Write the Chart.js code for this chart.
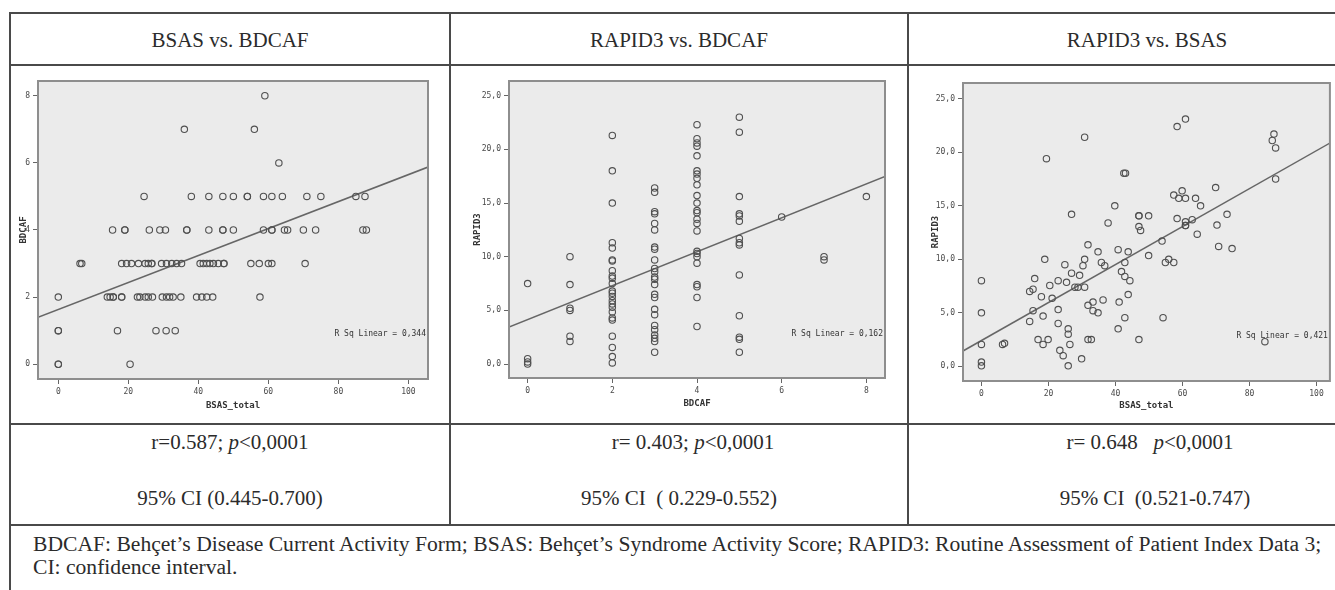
<!DOCTYPE html>
<html>
<head>
<meta charset="utf-8">
<script src="https://cdn.jsdelivr.net/npm/chart.js@4.4.1/dist/chart.umd.min.js"></script>
<style>
body { margin:0; width:1335px; height:590px; overflow:hidden; position:relative; background:#fff;
       font-family:"Liberation Serif","Times New Roman",serif; color:#2b2b2b; }
.hl { position:absolute; height:2px; background:#4a4a4a; }
.vl { position:absolute; width:2px; background:#4a4a4a; }
.txt { position:absolute; text-align:center; font-size:21px; line-height:24px; white-space:pre; }
canvas { position:absolute; }
</style>
</head>
<body>
<div class="hl" style="left:10px; width:1330px; top:12px;"></div>
<div class="hl" style="left:10px; width:1330px; top:64px;"></div>
<div class="hl" style="left:10px; width:1330px; top:423px;"></div>
<div class="hl" style="left:10px; width:1330px; top:524px;"></div>
<div class="vl" style="left:9px; top:12px; height:580px;"></div>
<div class="vl" style="left:449px; top:12px; height:513px;"></div>
<div class="vl" style="left:907px; top:12px; height:513px;"></div>

<div class="txt" style="left:10px; width:440px; top:28px;">BSAS vs. BDCAF</div>
<div class="txt" style="left:450px; width:458px; top:28px;">RAPID3 vs. BDCAF</div>
<div class="txt" style="left:908px; width:478px; top:28px;">RAPID3 vs. BSAS</div>

<div class="txt" style="left:10px; width:440px; top:430px;">r=0.587; <i>p</i>&lt;0,0001</div>
<div class="txt" style="left:10px; width:440px; top:486px;">95% CI (0.445-0.700)</div>
<div class="txt" style="left:450px; width:486px; top:430px;">r= 0.403; <i>p</i>&lt;0,0001</div>
<div class="txt" style="left:450px; width:458px; top:486px;">95% CI  ( 0.229-0.552)</div>
<div class="txt" style="left:908px; width:484px; top:430px;">r= 0.648   <i>p</i>&lt;0,0001</div>
<div class="txt" style="left:908px; width:494px; top:486px;">95% CI  (0.521-0.747)</div>

<div class="txt" style="left:33px; top:533px; text-align:left; font-size:21.6px; line-height:23px;">BDCAF: Behçet’s Disease Current Activity Form; BSAS: Behçet’s Syndrome Activity Score; RAPID3: Routine Assessment of Patient Index Data 3;
CI: confidence interval.</div>

<canvas id="c1" width="438" height="357" style="left:11px; top:66px;"></canvas>
<canvas id="c2" width="456" height="357" style="left:451px; top:66px;"></canvas>
<canvas id="c3" width="426" height="357" style="left:909px; top:66px;"></canvas>

<script>
// BSAS vs. BDCAF: BSAS_total values for each BDCAF level
const bdcafLevels1 = [8, 7, 6, 5, 4, 3, 2, 1, 0];
const bsasAtLevel1 = [
    [59],
    [36, 56],
    [63],
    [24.5, 38, 43, 47, 50, 54, 54, 58.6, 61, 64, 71, 75, 85, 87.6],
    [15.5, 19, 19, 26, 29, 30.6, 36.7, 36.7, 43, 47, 47, 50, 58.6, 61, 61, 64.6, 65.5, 70, 73.5, 87, 88],
    [6.2, 6.7, 18.1, 19.5, 20.9, 22.9, 24.8, 25.7, 26.7, 26.7, 29.5, 30.9, 32.4, 33.8, 35.2, 40.5, 41.4,
     42.4, 43.3, 44.3, 45.7, 47.3, 47.3, 55, 57.4, 60, 61, 70.5],
    [0, 14, 14.8, 15.7, 15.7, 18.1, 18.1, 22.6, 23.3, 24.8, 25.7, 26.9, 29.7, 30.9, 31.8, 32.8, 35,
     39.5, 41, 42.4, 44.1, 57.6],
    [0, 0, 16.9, 27.9, 30.8, 33.4],
    [0, 0, 20.5]
];

// RAPID3 vs. BDCAF: RAPID3 values for each BDCAF value
const bdcafCols2 = [0, 1, 2, 3, 4, 5, 6, 7, 8];
const rapidAtBdcaf2 = [
    [7.5, 0.5, 0.2, 0],
    [10.0, 7.4, 5.2, 5.0, 2.6, 2.1],
    [21.3, 18.0, 15.0, 11.3, 10.8, 9.7, 9.6, 8.7, 8.2, 8.0, 7.5, 6.8, 6.6, 6.3, 5.9, 5.6, 5.3, 4.85,
     4.3, 4.1, 2.6, 1.55, 0.7, 0.1],
    [16.4, 16.0, 14.2, 14.0, 13.1, 12.5, 10.9, 10.7, 9.7, 8.9, 8.6, 8.1, 7.9, 7.4, 6.5, 6.2, 5.1, 4.6,
     3.6, 3.2, 2.7, 2.4, 2.1, 1.1],
    [22.3, 21.0, 20.6, 20.3, 19.4, 18.0, 17.7, 17.3, 16.7, 15.7, 15.0, 14.3, 14.1, 13.5, 13.1, 12.4,
     10.5, 10.3, 10.0, 9.4, 7.4, 7.2, 6.2, 3.5],
    [23.0, 21.6, 15.6, 14.0, 13.8, 13.3, 11.7, 11.3, 11.1, 8.3, 4.5, 2.5, 2.3, 1.1],
    [13.7],
    [10.0, 9.7],
    [15.6]
];

// RAPID3 vs. BSAS: paired values
const bsas3 = [0, 0, 0, 0, 0, 6.3, 6.9, 30.8, 19.4, 26.9, 39.8, 37.8, 42.5, 43,
    18.9, 31.8, 30.8, 34.8, 35.8, 36.8, 40.8, 43.8, 42.8, 41.8, 42.8, 44.3,
    24.9, 30.3, 26.9, 29.3, 15.9, 22.9, 25.4, 20.4, 27.9, 28.8, 30.8, 15.4, 14.4, 17.9, 21.1, 43.8,
    36.3, 41.1, 33.3, 31.8, 33.3, 34.8, 15.4, 22.9, 18.4, 14.4, 22.9, 42.8, 40.8, 25.9, 25.9, 16.9,
    19.9, 18.4, 31.8, 32.8, 26.4, 23.4, 24.4, 29.9, 25.9,
    58.4, 60.9, 87.3, 86.8, 87.8, 87.8, 69.9, 57.4, 59.9, 58.9, 60.9, 63.9, 65.4, 47, 47, 49.9,
    58.4, 60.9, 62.9, 60.9, 60.9, 73.3, 70.3, 64.4, 47, 47.5, 53.9, 70.8, 74.8, 49.9, 55.9, 54.9,
    57.4, 54.2, 47, 84.6];
const rapid3 = [8.0, 5.0, 2.05, 0.4, 0.05, 2.05, 2.15, 21.4, 19.4, 14.2, 15.0, 13.4, 18.05, 18.05,
    10.0, 11.35, 10.0, 10.7, 9.7, 9.4, 10.9, 10.7, 9.7, 8.85, 8.4, 8.0,
    9.5, 9.4, 8.7, 8.5, 8.2, 8.0, 7.85, 7.55, 7.4, 7.4, 7.4, 7.2, 7.0, 6.5, 6.35, 6.7,
    6.2, 6.0, 6.0, 5.7, 5.2, 5.0, 5.2, 5.3, 4.7, 4.2, 4.0, 4.55, 3.5, 3.5, 3.0, 2.5,
    2.5, 2.05, 2.5, 2.5, 2.05, 1.5, 1.0, 0.7, 0.05,
    22.4, 23.1, 21.7, 21.1, 20.4, 17.5, 16.7, 16.0, 16.4, 15.7, 15.7, 15.7, 15.0, 14.06, 14.06, 14.06,
    13.8, 13.5, 13.7, 13.15, 13.15, 14.2, 13.2, 12.35, 13.06, 12.7, 11.7, 11.2, 11.0, 10.35, 10.0, 9.7,
    9.7, 4.55, 2.5, 2.3];

const bsasTicks = [0, 20, 40, 60, 80, 100];
const bsasTickLabels = ['0', '20', '40', '60', '80', '100'];
const bdcafTicks = [0, 2, 4, 6, 8];
const bdcafTickLabels = ['0', '2', '4', '6', '8'];
const rapidTicks = [0, 5, 10, 15, 20, 25];
const rapidTickLabels = ['0,0', '5,0', '10,0', '15,0', '20,0', '25,0'];

// fitted lines and R² as printed in each panel
const fitIntercept = [1.63, 4.15, 2.41];
const fitSlope = [0.0402, 1.58, 0.1774];
const rSqLabels = ['R Sq Linear = 0,344', 'R Sq Linear = 0,162', 'R Sq Linear = 0,421'];

const MONO = '"DejaVu Sans Mono", monospace';

const spssFrame = {
    id: 'spssFrame',
    beforeDraw(chart) {
        const {ctx, chartArea: a} = chart;
        ctx.save();
        ctx.fillStyle = '#ebebeb';
        ctx.fillRect(a.left, a.top, a.width, a.height);
        ctx.restore();
    },
    afterDraw(chart, args, opts) {
        const {ctx, chartArea: a} = chart;
        ctx.save();
        ctx.strokeStyle = '#8e8e8e';
        ctx.lineWidth = 2;
        ctx.strokeRect(a.left, a.top, a.width, a.height);
        ctx.font = '8px ' + MONO;
        ctx.fillStyle = '#333';
        ctx.textAlign = 'right';
        ctx.textBaseline = 'middle';
        ctx.fillText(opts.text, a.right - 2, a.top + a.height * 0.85);
        ctx.restore();
    }
};

function axis(range, ticks, labels, title, size, titlePad) {
    return {
        type: 'linear',
        min: range[0],
        max: range[1],
        afterBuildTicks: s => { s.ticks = ticks.map(v => ({value: v})); },
        afterFit: s => { if (s.isHorizontal()) s.height = size; else s.width = size; },
        ticks: {
            callback: v => labels[ticks.indexOf(v)],
            font: {family: MONO, size: 8},
            color: '#4a4a4a',
            padding: 3,
            maxRotation: 0,
            autoSkip: false
        },
        grid: {display: true, drawOnChartArea: false, drawTicks: true, tickLength: 5, color: '#666'},
        border: {display: false},
        title: {
            display: true,
            text: title,
            font: {family: MONO, size: 9, weight: 'bold'},
            color: '#333',
            padding: titlePad
        }
    };
}

function scatterPanel(id, points, k, xAxis, yAxis, padding) {
    const x0 = xAxis.min, x1 = xAxis.max;
    const fit = [
        {x: x0, y: fitIntercept[k] + fitSlope[k] * x0},
        {x: x1, y: fitIntercept[k] + fitSlope[k] * x1}
    ];
    new Chart(document.getElementById(id), {
        type: 'scatter',
        data: {
            datasets: [{
                data: points,
                pointRadius: 3.2,
                pointBorderWidth: 1.1,
                pointBorderColor: '#505050',
                pointBackgroundColor: 'rgba(0,0,0,0)'
            }, {
                data: fit,
                showLine: true,
                pointRadius: 0,
                borderColor: '#666',
                borderWidth: 1.5
            }]
        },
        options: {
            responsive: false,
            animation: false,
            devicePixelRatio: 1,
            layout: {padding: padding},
            scales: {x: xAxis, y: yAxis},
            plugins: {
                legend: {display: false},
                tooltip: {enabled: false},
                spssFrame: {text: rSqLabels[k]}
            }
        },
        plugins: [spssFrame]
    });
}

const pts1 = [];
bdcafLevels1.forEach((lvl, i) => bsasAtLevel1[i].forEach(b => pts1.push({x: b, y: lvl})));
const pts2 = [];
bdcafCols2.forEach((c, i) => rapidAtBdcaf2[i].forEach(r => pts2.push({x: c, y: r})));
const pts3 = bsas3.map((b, i) => ({x: b, y: rapid3[i]}));

scatterPanel('c1', pts1, 0,
    axis([-5.8, 105.6], bsasTicks, bsasTickLabels, 'BSAS_total', 44, {top: 0, bottom: 12}),
    axis([-0.44, 8.44], bdcafTicks, bdcafTickLabels, 'BDCAF', 27, {top: 7, bottom: 0}),
    {top: 15, right: 21, left: 0, bottom: 0});

scatterPanel('c2', pts2, 1,
    axis([-0.44, 8.44], bdcafTicks, bdcafTickLabels, 'BDCAF', 45, {top: 0, bottom: 14}),
    axis([-1.3, 26.37], rapidTicks, rapidTickLabels, 'RAPID3', 58, {top: 21, bottom: 0}),
    {top: 15, right: 22, left: 0, bottom: 0});

scatterPanel('c3', pts3, 2,
    axis([-5.5, 104], bsasTicks, bsasTickLabels, 'BSAS_total', 42, {top: 0, bottom: 12}),
    axis([-1.37, 26.47], rapidTicks, rapidTickLabels, 'RAPID3', 54, {top: 21, bottom: 0}),
    {top: 17, right: 5, left: 0, bottom: 0});
</script>
</body>
</html>
